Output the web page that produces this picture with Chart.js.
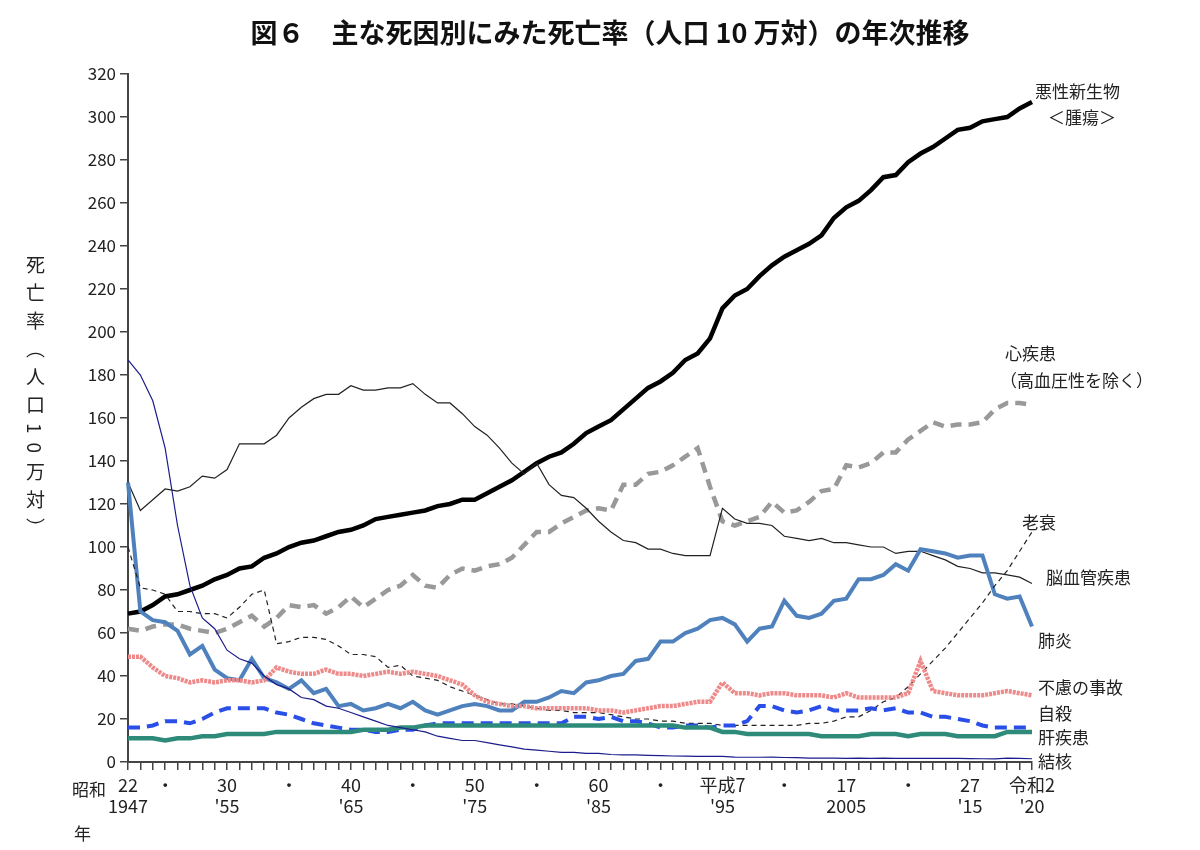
<!DOCTYPE html>
<html>
<head>
<meta charset="utf-8">
<script src="https://cdn.jsdelivr.net/npm/chart.js@4"></script>
<style>
  body { margin: 0; background: #fff; font-family: "Noto Sans CJK JP", sans-serif; }
  #wrap { position: relative; width: 1200px; height: 850px; }
  canvas { position: absolute; left: 0; top: 0; }
  .lbl { position: absolute; font-size: 17px; color: #222; transform: translateY(-50%); white-space: nowrap; }
  #title { position: absolute; left: 0; width: 1220px; top: 12px; text-align: center; font-size: 27px; font-weight: bold; color: #111; }
  #ytitle { position: absolute; left: 22px; top: 255px; writing-mode: vertical-rl; font-size: 19px; letter-spacing: 9px; color: #222; }
</style>
</head>
<body>
<div id="wrap">
  <canvas id="chart" width="1200" height="850"></canvas>
  <div id="title">図６　主な死因別にみた死亡率（人口 10 万対）の年次推移</div>
  <div id="ytitle">死亡率（人口10万対）</div>
  <div class="lbl" style="left:72px;top:788px">昭和</div>
  <div class="lbl" style="left:74px;top:832px">年</div>
  <div class="lbl" style="left:1035px;top:90px">悪性新生物</div>
  <div class="lbl" style="left:1048px;top:116px">＜腫瘍＞</div>
  <div class="lbl" style="left:1005px;top:352px">心疾患</div>
  <div class="lbl" style="left:1000px;top:379px">（高血圧性を除く）</div>
  <div class="lbl" style="left:1022px;top:521px">老衰</div>
  <div class="lbl" style="left:1046px;top:576px">脳血管疾患</div>
  <div class="lbl" style="left:1038px;top:639px">肺炎</div>
  <div class="lbl" style="left:1038px;top:686px">不慮の事故</div>
  <div class="lbl" style="left:1038px;top:712px">自殺</div>
  <div class="lbl" style="left:1038px;top:736px">肝疾患</div>
  <div class="lbl" style="left:1038px;top:760px">結核</div>
</div>
<script>
const years = [];
for (let y = 1947; y <= 2020; y++) years.push(y);

// tick labels: [era year, western year]
const tickLabels = {
  1947: ['22', '1947'], 1950: ['・', ''], 1955: ['30', "'55"], 1960: ['・', ''],
  1965: ['40', "'65"], 1970: ['・', ''], 1975: ['50', "'75"], 1980: ['・', ''],
  1985: ['60', "'85"], 1990: ['・', ''], 1995: ['平成7', "'95"], 2000: ['・', ''],
  2005: ['17', '2005'], 2010: ['・', ''], 2015: ['27', "'15"], 2020: ['令和2', "'20"]
};

const cancer = [69,70,73,77,78,80,82,85,87,90,91,95,97,100,102,103,105,107,108,110,113,114,115,116,117,119,120,122,122,125,128,131,135,139,142,144,148,153,156,159,164,169,174,177,181,187,190,197,211,217,220,226,231,235,238,241,245,253,258,261,266,272,273,279,283,286,290,294,295,298,299,300,304,307];
const heart = [62,61,63,64,64,62,61,60,62,65,68,63,67,73,72,73,69,72,77,72,76,80,82,87,82,81,87,90,89,91,92,95,101,107,107,111,114,117,118,117,129,129,134,135,138,142,146,128,112,110,112,114,121,116,117,121,126,127,138,137,139,144,144,150,154,158,156,157,157,158,164,167,167,166];
const stroke = [130,117,122,127,126,128,133,132,136,148,148,148,152,160,165,169,171,171,175,173,173,174,174,176,171,167,167,162,156,152,146,139,134,139,129,124,123,118,112,107,103,102,99,99,97,96,96,96,118,113,111,111,110,105,104,103,104,102,102,101,100,100,97,98,98,96,94,91,90,88,88,87,86,83];
const pneumonia = [130,70,66,65,61,50,54,43,39,38,48,39,37,34,38,32,34,26,27,24,25,27,25,28,24,22,24,26,27,26,24,24,28,28,30,33,32,37,38,40,41,47,48,56,56,60,62,66,67,64,56,62,63,75,68,67,69,75,76,85,85,87,92,89,99,98,97,95,96,96,78,76,77,63];
const accident = [49,49,44,40,39,37,38,37,38,38,37,38,44,42,41,41,43,41,41,40,41,42,41,42,41,40,38,36,31,28,27,26,26,25,25,25,25,25,24,24,23,24,25,26,26,27,28,28,37,32,32,31,32,32,31,31,31,30,32,30,30,30,30,32,47,33,32,31,31,31,32,33,32,31];
const suicide = [16,16,17,19,19,18,20,23,25,25,25,25,23,22,20,18,17,16,15,15,14,14,15,15,17,18,18,18,18,18,18,18,18,18,18,18,21,21,20,21,19,19,18,16,16,17,17,16,17,17,19,26,26,24,23,24,26,24,24,24,25,24,25,23,23,21,21,20,19,17,16,16,16,16];
const liver = [11,11,11,10,11,11,12,12,13,13,13,13,14,14,14,14,14,14,14,15,15,15,16,16,17,17,17,17,17,17,17,17,17,17,17,17,17,17,17,17,17,17,17,17,17,16,16,16,14,14,13,13,13,13,13,13,12,12,12,12,13,13,13,12,13,13,13,12,12,12,12,14,14,14];
const tb = [187,180,168,146,110,82,67,62,52,48,46,40,36,34,30,29,26,25,23,21,19,17,16,15,14,12,11,10,10,9,8,7,6,5.5,5,4.5,4.5,4,4,3.5,3.3,3.3,3.1,3,2.8,2.7,2.6,2.6,2.6,2.3,2.2,2.2,2.3,2.1,2,1.8,1.8,1.8,1.7,1.8,1.7,1.8,1.7,1.7,1.7,1.7,1.7,1.7,1.6,1.5,1.5,1.8,1.7,1.5];
const senility = [100,81,80,78,70,70,69,69,67,72,78,80,55,56,58,58,57,54,50,50,49,44,45,40,39,38,35,33,31,29,27,27,26,25,24,24,23,23,23,22,21,20,20,19,19,18,18,18,17,17,17,17,17,17,17,18,18,19,21,21,24,28,30,35,41,47,53,60,67,74,82,89,98,107];

function series(label, data, color, width, dash) {
  return { label, data, borderColor: color, borderWidth: width, borderDash: dash || [],
    pointRadius: 0, tension: 0, fill: false };
}

new Chart(document.getElementById('chart'), {
  type: 'line',
  data: {
    labels: years,
    datasets: [
      series('結核', tb, '#1c1c8c', 1.2),
      series('肝疾患', liver, '#2e8b7a', 4.5),
      series('自殺', suicide, '#2a4fe8', 4, [12, 7]),
      series('不慮の事故', accident, '#ee8a8a', 4.5, [3, 1]),
      series('老衰', senility, '#222', 1.2, [5, 4]),
      series('肺炎', pneumonia, '#4f81bd', 4),
      series('脳血管疾患', stroke, '#222', 1.2),
      series('心疾患', heart, '#999', 4.5, [11, 7]),
      series('悪性新生物', cancer, '#000', 4.5)
    ]
  },
  options: {
    responsive: false,
    animation: false,
    layout: { padding: { top: 74, right: 168, left: 0, bottom: 0 } },
    plugins: { legend: { display: false }, tooltip: { enabled: false } },
    scales: {
      x: {
        offset: false,
        border: { color: '#444', width: 2 },
        grid: { drawOnChartArea: false, drawTicks: true, tickLength: 8, color: '#444', lineWidth: 1.5 },
        afterFit: s => { s.height = 88; },
        ticks: {
          autoSkip: false, maxRotation: 0, color: '#222', padding: 4,
          font: { size: 18, family: '"Noto Sans CJK JP", sans-serif' },
          callback: function (v) {
            const y = years[v];
            return tickLabels[y] ? tickLabels[y] : '';
          }
        }
      },
      y: {
        min: 0, max: 320,
        border: { color: '#444', width: 2 },
        grid: { drawOnChartArea: false, tickLength: 8, color: '#444', lineWidth: 1.5 },
        afterFit: s => { s.width = 128; },
        ticks: { stepSize: 20, color: '#222', padding: 4,
          font: { size: 17, family: '"Noto Sans CJK JP", sans-serif' } }
      }
    }
  }
});
</script>
</body>
</html>
